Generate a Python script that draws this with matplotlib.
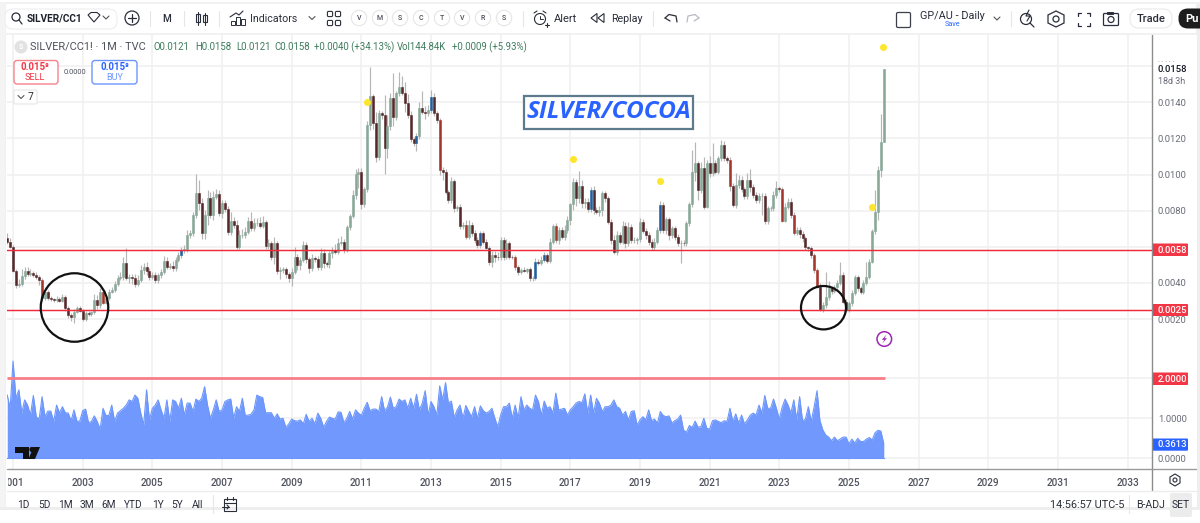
import numpy as np
import matplotlib
matplotlib.use("Agg")
import matplotlib.pyplot as plt
from matplotlib.patches import Rectangle, Circle, Ellipse, FancyBboxPatch, Polygon
from matplotlib.transforms import Bbox

plt.rcParams['font.family'] = ['Roboto', 'DejaVu Sans']

# ---------- data (prices in units of 0.00001) ----------
first_open = 647
closes = [
 628,601,468,389,394,438,468,450,453,444,435,416,315,352,315,309,306,313,302,324,
 260,223,210,241,260,247,200,232,228,237,306,278,352,291,315,352,361,394,426,435,
 512,426,435,426,394,416,472,490,468,435,444,416,444,462,521,490,494,481,527,555,
 582,586,665,675,776,900,841,675,776,868,776,878,892,785,841,809,680,745,721,601,
 665,665,684,745,702,730,730,717,739,604,619,545,619,468,472,475,450,429,462,545,
 499,527,610,531,481,536,533,490,568,509,505,564,582,573,623,628,582,708,772,887,
 1003,1016,837,918,1274,1435,1283,1099,1339,1330,1145,1269,1422,1317,1450,1483,1453,1394,1330,1195,
 1173,1213,1370,1348,1339,1357,1427,1339,1302,1025,1016,905,859,966,813,822,715,721,656,721,
 675,638,610,675,628,592,514,555,545,542,638,545,619,545,542,486,459,472,468,475,
 426,426,518,509,527,555,523,628,717,638,693,656,693,748,835,961,868,937,844,850,
 807,914,804,795,804,896,868,739,638,573,665,628,717,619,712,638,638,641,739,689,
 665,628,597,628,693,831,693,752,665,702,656,619,623,619,730,835,1016,1062,914,1034,
 822,1062,1007,1062,1016,1090,1164,1090,1081,937,831,942,970,918,881,970,933,887,859,881,
 881,743,813,813,887,924,918,745,822,850,776,678,693,671,647,597,592,555,472,379,
 254,278,324,370,357,376,401,444,296,250,287,343,431,370,352,401,435,518,689,791,
 1025,1178,1582]
upper_wick = [
 30,20,10,10,30,40,20,20,25,15,15,10,10,25,10,10,10,15,10,15,
 10,10,10,15,10,10,10,15,10,10,30,25,20,10,15,15,15,15,15,25,
 30,80,15,15,25,25,25,20,25,15,15,15,10,15,30,20,15,25,15,15,
 15,25,30,20,15,103,70,30,30,45,35,30,30,25,20,20,15,45,20,25,
 30,35,25,20,50,30,30,35,30,10,25,15,35,15,15,15,15,10,20,55,
 15,15,20,15,15,25,15,15,25,20,15,15,15,35,25,30,15,10,10,25,
 30,20,20,15,20,162,10,65,20,15,110,60,30,140,10,87,60,60,50,20,
 15,15,30,90,30,30,40,25,15,10,15,15,10,20,10,10,15,15,25,25,
 15,20,15,10,15,15,15,20,20,25,15,15,25,15,10,10,15,10,15,10,
 15,10,20,15,20,15,10,20,10,15,15,15,30,25,10,20,15,80,30,20,
 20,15,20,15,20,15,15,15,15,25,20,15,25,20,25,15,15,15,20,15,
 15,15,15,20,15,20,15,15,15,15,15,15,15,15,15,15,120,120,15,37,
 65,20,40,110,20,15,25,20,15,15,15,65,25,20,15,40,60,15,15,15,
 15,15,15,15,20,40,10,15,20,20,20,15,15,15,15,10,10,10,10,10,
 20,15,138,40,15,15,15,74,18,15,15,15,15,15,15,15,83,15,10,123,20,155,5]
lower_wick = [
 10,10,10,20,10,10,15,10,10,10,15,25,15,10,10,10,10,10,10,10,
 15,15,20,30,10,10,10,10,10,10,10,20,15,10,10,10,10,10,10,10,
 20,10,25,30,15,10,10,20,25,20,15,15,15,15,15,15,15,15,15,10,
 15,15,15,15,15,15,40,30,30,55,15,25,15,15,25,15,15,15,15,15,
 15,15,15,15,15,15,15,15,15,15,15,20,40,20,45,15,25,25,45,15,
 25,25,10,20,25,15,15,20,20,25,15,25,25,15,15,15,15,10,15,10,
 25,80,30,15,15,25,30,30,20,25,142,55,25,50,15,15,10,45,15,15,
 15,40,15,15,30,15,15,15,15,28,45,15,15,15,20,15,15,15,15,15,
 15,15,15,15,10,5,15,25,30,15,15,20,10,10,10,15,15,10,10,15,
 15,15,10,10,10,10,15,15,10,15,25,15,20,15,25,30,40,25,30,30,
 15,15,20,15,25,35,20,15,20,15,20,15,15,25,15,15,15,25,15,15,
 20,20,15,15,15,15,15,20,30,15,20,15,107,15,15,15,15,50,55,15,
 15,10,20,15,15,15,15,15,15,30,10,15,15,15,15,15,30,15,15,15,
 105,15,15,15,15,15,15,10,10,15,15,15,15,20,20,15,15,15,15,10,
 10,15,15,20,20,15,15,15,10,10,10,15,10,15,15,15,15,15,10,20,40,40,0]
red_bars = [12,33,149,158,175,189,249,267,271,278,279]
blue_bars = [60,141,146,163,182,185,201,225]
volume = [
 1.58,1.25,2.43,1.50,1.71,1.13,1.46,1.33,1.08,1.57,1.04,.98,1.54,1.04,1.18,1.18,.92,1.33,1.13,1.29,
 1.14,1.13,.94,1.21,.93,.93,1.19,1.23,.89,.92,1.06,.92,.73,1.25,1.07,1.07,1.33,.92,1.13,1.19,
 1.25,1.33,1.46,1.42,1.58,1.50,1.13,.83,1.71,.96,1.25,1.33,1.46,1.21,1.00,1.46,.92,1.46,1.42,1.25,
 1.50,1.08,1.38,1.38,1.17,1.48,1.42,1.50,1.79,1.33,1.00,1.21,1.46,1.17,1.21,1.42,1.46,1.48,1.00,1.29,
 1.17,1.50,1.07,1.08,1.10,1.21,1.58,1.54,1.52,1.14,1.14,1.14,1.00,1.11,.98,1.00,.77,.86,.98,.94,
 .93,.96,.86,1.10,.92,1.00,.86,1.13,1.00,.78,.92,1.03,1.00,.98,1.16,1.15,.89,1.00,1.17,.98,
 1.21,1.13,1.07,1.25,1.40,1.19,1.23,1.23,1.17,1.54,1.19,1.28,1.53,1.25,1.29,1.48,1.42,1.46,1.25,1.50,
 1.25,1.60,1.21,1.38,1.69,1.08,1.42,1.29,1.08,1.81,1.46,1.89,1.38,1.43,1.02,1.21,1.33,1.00,1.32,1.17,
 1.04,1.29,1.00,1.31,1.19,1.13,1.17,1.25,1.00,.79,1.08,1.29,1.29,1.38,1.00,1.33,1.00,1.54,1.21,1.33,
 1.25,1.21,1.58,1.42,1.08,1.43,1.25,1.29,1.13,1.63,1.21,1.23,1.25,1.08,1.21,1.29,1.38,1.42,1.39,1.61,
 1.13,1.58,1.13,1.50,1.38,
 1.17,1.29,1.29,1.33,1.46,1.29,1.25,1.08,1.17,.96,1.17,1.19,.83,.96,1.04,.96,1.21,.94,.98,.88,
 1.17,1.07,1.04,1.06,.88,.94,.98,1.08,.71,.65,.82,.77,.93,.78,.79,1.00,.75,.73,.94,.96,
 .92,.89,.94,.92,1.25,.92,1.11,.88,1.08,.86,.96,1.08,1.13,1.08,1.33,1.13,1.57,1.25,1.25,1.48,
 1.25,.98,1.28,1.48,1.33,1.13,1.46,.96,1.54,.94,.98,1.29,.92,1.29,1.69,.94,.71,.58,.53,.44,
 .53,.44,.48,.53,.53,.36,.48,.38,.50,.42,.42,.48,.52,.46,.64,.70,.68,.3613]
level_lines = [0.0058, 0.0025]
volume_level = 2.0
dot_years = [2011.15, 2017.09, 2019.58, 2025.66, 2025.99]
dot_values = [0.0140, 0.01084, 0.00966, 0.00820, 0.01706]
price_ticks = [0.002, 0.004, 0.006, 0.008, 0.010, 0.012, 0.014, 0.016]
price_labels = ['0.0020', '0.0040', '', '0.0080', '0.0100', '0.0120', '0.0140', '']
volume_ticks = [0.0, 1.0, 2.0]
volume_labels = ['0.0000', '1.0000', '']
year_ticks = list(range(2001, 2034, 2))
start_year = 2000 + 10 / 12

# ---------- geometry helpers ----------
W, H = 1200, 523
fig = plt.figure(figsize=(W / 100, H / 100), dpi=100, facecolor='#f1f1f1')
def rect(x0, y0, x1, y1):
    return [x0 / W, 1 - y1 / H, (x1 - x0) / W, (y1 - y0) / H]

PANE_L, PANE_R = 7, 1151.7
year_at = lambda px: 2003 + (px - 82.7) / 34.83
price_at = lambda py: 0.0140 - (py - 102.3) / 18060
vol_at = lambda py: (458.3 - py) / 40

bg = fig.add_axes([0, 0, 1, 1], zorder=0)
bg.set_xlim(0, W); bg.set_ylim(H, 0); bg.axis('off')
bg.add_patch(Rectangle((6, 4), 1190, 29, fc='white', ec='none'))
bg.add_patch(Rectangle((6, 35), 1191, 472, fc='white', ec='none'))
bg.add_patch(Rectangle((0, 0), 5, 523, fc='#f4f4f4', ec='none'))
bg.add_patch(Rectangle((0, 509), 1200, 14, fc='#ffffff', ec='none'))
bg.add_patch(Rectangle((0, 507), 1200, 3, fc='#eeeeee', ec='none'))
bg.add_patch(Rectangle((0, 0), 1200, 2, fc='#ffffff', ec='none'))
bg.add_patch(Rectangle((1197, 4), 3, 505, fc='#eeeeee', ec='none'))

closes_a = np.array(closes, float)
opens_a = np.r_[first_open, closes_a[:-1]]
tops = np.maximum(opens_a, closes_a)
bots = np.minimum(opens_a, closes_a)
highs = tops + np.array(upper_wick, float)
lows = bots - np.array(lower_wick, float)
idx = np.arange(len(closes))
years = start_year + idx / 12

colors = np.array(['#88a898' if c >= o else '#56282a' for o, c in zip(opens_a, closes_a)], dtype=object)
colors[red_bars] = '#a5352c'
colors[blue_bars] = '#20609f'

GRID = '#f0f0f0'
ax = fig.add_axes(rect(PANE_L, 35, PANE_R, 355), zorder=2, facecolor='none')
ax.set_xlim(year_at(PANE_L), year_at(PANE_R))
ax.set_ylim(price_at(355), price_at(35))
ax.vlines(years, lows * 1e-5, highs * 1e-5, color='#b6b6b6', lw=0.85, zorder=3)
ax.bar(years, (tops - bots) * 1e-5, bottom=bots * 1e-5, width=2 / 34.83, color=list(colors),
       edgecolor=list(colors), linewidth=0.4, zorder=4)
for lv in level_lines:
    ax.axhline(lv, color='#ee2b3c', lw=1.05, zorder=5)
ax.scatter(dot_years, dot_values, s=26, color='#ffe62e', zorder=6, linewidths=0)
ax.set_xticks(year_ticks); ax.tick_params(axis='x', length=0, labelbottom=False)
ax.set_yticks(price_ticks); ax.set_yticklabels(price_labels)
ax.yaxis.tick_right()
ax.tick_params(axis='y', length=0, pad=4.5, labelsize=6.8, labelcolor='#6a6d78')
ax.grid(True, color=GRID, lw=1.1, zorder=0); ax.set_axisbelow(True)
for s in ax.spines.values():
    s.set_visible(False)

ax2 = fig.add_axes(rect(PANE_L, 355, PANE_R, 468.7), zorder=2, facecolor='none')
ax2.set_xlim(year_at(PANE_L), year_at(PANE_R))
ax2.set_ylim(vol_at(468.7), vol_at(355))
ax2.fill_between(years, 0, volume, color='#7098fd', lw=0, zorder=3)
ax2.plot(years, volume, color='#6d96fb', lw=0.8, zorder=3)
ax2.plot([years[0], years[-1]], [0, 0], color='#6d96fb', lw=0.8, zorder=3)
ax2.plot([year_at(PANE_L), years[-1] + 0.03], [volume_level] * 2, color='#f77f88', lw=2.0, zorder=4,
         solid_capstyle='butt')
ax2.set_xticks(year_ticks)
ax2.set_xticklabels([str(y) for y in year_ticks])
ax2.set_yticks(volume_ticks); ax2.set_yticklabels(volume_labels)
ax2.yaxis.tick_right()
ax2.tick_params(axis='y', length=0, pad=4.5, labelsize=6.8, labelcolor='#6a6d78')
ax2.tick_params(axis='x', length=0, pad=6.5, labelsize=7.2, labelcolor='#50535e')
ax2.grid(True, color=GRID, lw=1.1, zorder=0); ax2.set_axisbelow(True)
for name, s in ax2.spines.items():
    s.set_visible(False)
clip = Bbox.from_extents(7.5, 0, 1200, 523)
for lab in ax2.get_xticklabels():
    lab.set_clip_box(clip); lab.set_clip_on(True)
    lab.set_fontweight('medium')

# ---------- overlay: tool bars, tags, drawings ----------
ov = fig.add_axes([0, 0, 1, 1], zorder=5, facecolor='none')
ov.set_xlim(0, W); ov.set_ylim(H, 0); ov.axis('off')
INK = '#2a2e39'
def T(x, y, s, size=7.5, color=INK, ha='left', weight='normal', **kw):
    return ov.text(x, y, s, fontsize=size, color=color, ha=ha, va='center', fontweight=weight, **kw)
def L(xs, ys, color=INK, lw=0.8, **kw):
    ov.plot(xs, ys, color=color, lw=lw, solid_capstyle='round', **kw)
def chev(x, y, s=3, color='#555', lw=0.8):
    L([x - s, x, x + s], [y - s * .5, y + s * .5, y - s * .5], color, lw)
def pill(x0, y0, x1, y1, r=3, fc='white', ec='#e0e3eb', lw=0.8):
    ov.add_patch(FancyBboxPatch((x0 + r, y0 + r), x1 - x0 - 2 * r, y1 - y0 - 2 * r,
                                boxstyle=f'round,pad={r},rounding_size={r}', fc=fc, ec=ec, lw=lw))

# axis lines
L([PANE_R, PANE_R], [35, 490], '#8c8c8c', 1.0)
L([7, 1196], [468.7, 468.7], '#9a9a9a', 1.0)
L([7, 1196], [490.5, 490.5], '#ececec', 0.9)

# top toolbar
pill(5, 9, 117, 29, r=8, ec='#eeeeee')
ov.add_patch(Circle((16, 17), 4, fc='none', ec=INK, lw=0.9)); L([19, 22], [20, 24], INK, 0.9)
T(27, 18.5, 'SILVER/CC1', 7.3, '#1e222d', weight='bold')
ov.add_patch(Polygon([[88, 15], [91, 12.5], [97, 12.5], [100, 15], [94, 22]], closed=True, fc='none', ec=INK, lw=0.8))
chev(106, 17.5)
ov.add_patch(Circle((132, 18), 7, fc='none', ec=INK, lw=0.9))
L([128, 136], [18, 18], INK, 0.9); L([132, 132], [14, 22], INK, 0.9)
L([149.5, 149.5], [11, 26], '#e6e6e6', 0.8)
T(167, 18.5, 'M', 7.2, ha='center', weight='medium')
L([183.5, 183.5], [11, 26], '#e6e6e6', 0.8)
for xc, y0, y1 in [(198, 14, 22), (205, 15, 22)]:
    ov.add_patch(Rectangle((xc - 2, y0), 4, y1 - y0, fc='none', ec=INK, lw=0.8))
    L([xc, xc], [y0 - 2.5, y1 + 2.5], INK, 0.8)
L([219, 219], [11, 26], '#e6e6e6', 0.8)
for xb, ht in [(231, 4), (236, 8), (241, 6)]:
    ov.add_patch(Rectangle((xb, 25 - ht), 3.5, ht, fc='none', ec=INK, lw=0.7))
L([230, 236, 239, 243], [17, 13, 15, 11], INK, 0.8)
T(250, 18.5, 'Indicators', 7.7, '#2a2e39')
chev(312, 18)
for xc in (330, 338):
    for yc in (14, 23):
        ov.add_patch(FancyBboxPatch((xc - 2, yc - 2), 4, 4, boxstyle='round,pad=0.6,rounding_size=1.2', fc='none', ec=INK, lw=0.8))
for xc, s in zip([359, 380, 400, 421, 442, 462, 483, 504], 'VMSCTVRS'):
    ov.add_patch(Circle((xc, 18), 7.7, fc='white', ec='#e6e6e6', lw=0.8))
    T(xc, 18.5, s, 5, '#4a4d58', ha='center', weight='medium')
L([523, 523], [11, 26], '#e6e6e6', 0.8)
ov.add_patch(Circle((540, 19), 5.5, fc='none', ec=INK, lw=0.8))
L([534, 537], [13, 11], INK, 0.8); L([543, 546], [11, 13], INK, 0.8); L([540, 540, 543], [16, 19, 19], INK, 0.7)
L([545, 549], [25, 25], INK, 0.8); L([547, 547], [23, 27], INK, 0.8)
T(554, 18.5, 'Alert', 8)
ov.add_patch(Polygon([[597, 13.5], [597, 22.5], [591, 18]], closed=True, fc='none', ec=INK, lw=0.8))
ov.add_patch(Polygon([[604, 13.5], [604, 22.5], [598, 18]], closed=True, fc='none', ec=INK, lw=0.8))
T(611, 18.5, 'Replay', 7.7)
L([652.5, 652.5], [11, 26], '#e6e6e6', 0.8)
L([665, 669, 676, 677], [18, 14.5, 16, 22], INK, 0.9); L([665, 670], [18, 21], INK, 0.9)
L([699, 695, 688, 687], [18, 14.5, 16, 22], '#b8bac2', 0.9); L([699, 694], [18, 21], '#b8bac2', 0.9)
ov.add_patch(FancyBboxPatch((897, 13), 13, 14, boxstyle='round,pad=0.5,rounding_size=1.5', fc='white', ec='#3c3f4a', lw=0.9))
T(920, 16, 'GP/AU - Daily', 7.8, '#2a2e39')
T(952, 24.7, 'Save', 5.2, '#2962ff', ha='center')
chev(997, 18.5)
L([1011, 1011], [11, 26], '#e6e6e6', 0.8)
ov.add_patch(Circle((1026, 19), 5.5, fc='none', ec=INK, lw=0.9)); L([1030, 1034], [23, 27], INK, 0.9)
L([1029, 1026, 1030, 1027], [10, 16, 16, 21], INK, 0.8)
ov.add_patch(Polygon([[1056, 11], [1064, 15], [1064, 23], [1056, 27], [1048, 23], [1048, 15]], closed=True, fc='none', ec=INK, lw=0.9))
ov.add_patch(Circle((1056, 19), 3, fc='none', ec=INK, lw=0.9))
for sx, sy in [(1, 1), (-1, 1), (1, -1), (-1, -1)]:
    cx, cy = 1084 - sx * 6, 19 - sy * 6.5
    L([cx + sx * 3, cx, cx], [cy, cy, cy + sy * 3], INK, 0.9)
ov.add_patch(FancyBboxPatch((1104, 14), 14, 11, boxstyle='round,pad=0.5,rounding_size=1', fc='none', ec=INK, lw=0.9))
ov.add_patch(Rectangle((1107, 12), 6, 2, fc='none', ec=INK, lw=0.7))
ov.add_patch(Circle((1111, 19.5), 3, fc='none', ec=INK, lw=0.9))
pill(1130, 9, 1172, 28, r=9, ec='#eaeaea')
T(1151, 18.5, 'Trade', 8, '#2a2e39', ha='center', weight='medium')
ov.add_patch(FancyBboxPatch((1188, 18), 30, 1, boxstyle='round,pad=9.5,rounding_size=9.5', fc='#1e1e1e', ec='none', clip_on=True))
T(1185, 18.5, 'Pu', 8, 'white', weight='bold')

# legend row
ov.add_patch(Circle((21, 47), 6.5, fc='#e2e2e2', ec='none'))
T(21, 47, 'S', 5, 'white', ha='center', weight='bold')
T(30, 47, 'SILVER/CC1! · 1M · TVC', 7.9, '#50535e')
GREEN = '#3f7c5d'
for x, s in [(154, 'O0.0121'), (195, 'H0.0158'), (236, 'L0.0121'), (274, 'C0.0158'),
             (314, '+0.0040 (+34.13%)'), (397, 'Vol144.84K'), (451.5, '+0.0009 (+5.93%)')]:
    T(x, 47, s, 6.9, GREEN)

# sell / buy widgets
pill(14, 60.5, 58, 84, r=3, ec='#f5838c', lw=1)
T(35, 67.5, '0.015⁸', 7, '#f23645', ha='center', weight='bold')
T(35, 77.5, 'SELL', 6.6, '#f23645', ha='center')
T(75, 72, '0.0000', 5.4, '#50535e', ha='center')
pill(92, 60.5, 137, 84, r=3, ec='#6d96fb', lw=1)
T(114.5, 67.5, '0.015⁸', 7, '#2962ff', ha='center', weight='bold')
T(114.5, 77.5, 'BUY', 6.6, '#6d96fb', ha='center')
pill(14, 90, 37, 104, r=1.5, ec='#e6e6e6')
chev(21, 97); T(28, 97, '7', 7.4, '#2a2e39')

# title box
ov.add_patch(Rectangle((523.5, 95.5), 169, 33.5, fc='white', ec='#5e7b8e', lw=1.6))
ov.text(608.5, 112.5, 'SILVER/COCOA', fontsize=17.6, color='#2962ff', ha='center', va='center',
        family='Open Sans', style='italic', fontweight='bold')

# hand drawn rings
ov.add_patch(Ellipse((74.5, 307.5), 67.5, 68.5, fc='none', ec='#111111', lw=1.6))
ov.add_patch(Ellipse((823.5, 307.7), 45, 43.4, fc='none', ec='#111111', lw=1.6))

# flash marker
ov.add_patch(Circle((884.3, 339), 7.3, fc='white', ec='#9c27b0', lw=1.1))
ov.add_patch(Polygon([[886.5, 334.5], [881.8, 339.8], [884.3, 339.8], [882.3, 343.5], [887, 338.2], [884.5, 338.2]],
                     closed=True, fc='#9c27b0', ec='none'))

# right scale extras
T(1158, 62.5, '· · · · ·', 5, '#777')
T(1158, 69.7, '0.0158', 6.8, '#131722', weight='medium')
T(1158, 81, '18d 3h', 6.5, '#6a6d78')
def tag(y0, y1, s, fc):
    ov.add_patch(FancyBboxPatch((1153, y0 + 1), 34, y1 - y0 - 2, boxstyle='round,pad=1,rounding_size=1', fc=fc, ec='none'))
    T(1158, (y0 + y1) / 2 + .3, s, 6.8, 'white', weight='medium')
tag(243.5, 256, '0.0058', '#f23645')
tag(304, 316, '0.0025', '#f23645')
tag(372.5, 385, '2.0000', '#f23645')
tag(438.5, 450.7, '0.3613', '#2962ff')

# TradingView mark
ov.add_patch(Polygon([[15, 447], [29, 447], [29, 459], [22.5, 459], [22.5, 452.5], [15, 452.5]], closed=True, fc='#111', ec='none'))
ov.add_patch(Circle((32, 449.5), 2.6, fc='#111', ec='none'))
ov.add_patch(Polygon([[33.5, 447], [40, 447], [35, 459], [28.5, 459]], closed=True, fc='#111', ec='none'))

# bottom bar
for x, s in [(23.7, '1D'), (44, '5D'), (65.8, '1M'), (87, '3M'), (109, '6M'), (133.6, 'YTD'),
             (157.7, '1Y'), (177.6, '5Y'), (198, 'All')]:
    T(x, 505, s, 7.3, '#2a2e39', ha='center')
L([212.5, 212.5], [495, 513], '#e6e6e6', 0.8)
ov.add_patch(Rectangle((224, 499), 12, 12, fc='none', ec=INK, lw=0.8))
L([224, 236], [502.5, 502.5], INK, 0.8); L([227, 227], [497, 500], INK, 0.8); L([233, 233], [497, 500], INK, 0.8)
L([222, 229], [507, 507], INK, 0.8); L([227, 229, 227], [505, 507, 509], INK, 0.8)
T(1049.7, 505, '14:56:57 UTC-5', 7.8, '#2a2e39')
L([1129, 1129], [495, 513], '#e6e6e6', 0.8)
T(1136.5, 505, 'B-ADJ', 7.6, '#2a2e39')
ov.add_patch(FancyBboxPatch((1171, 494), 20, 22, boxstyle='round,pad=1,rounding_size=2', fc='#ececec', ec='none'))
T(1181, 505, 'SET', 7.4, '#2a2e39', ha='center')
# axis settings cog
ov.add_patch(Polygon([[1175, 474], [1180, 477], [1180, 483], [1175, 486], [1170, 483], [1170, 477]], closed=True, fc='none', ec=INK, lw=0.8))
ov.add_patch(Circle((1175, 480), 2, fc='none', ec=INK, lw=0.8))

fig.savefig('out.png', dpi=100, facecolor=fig.get_facecolor())
